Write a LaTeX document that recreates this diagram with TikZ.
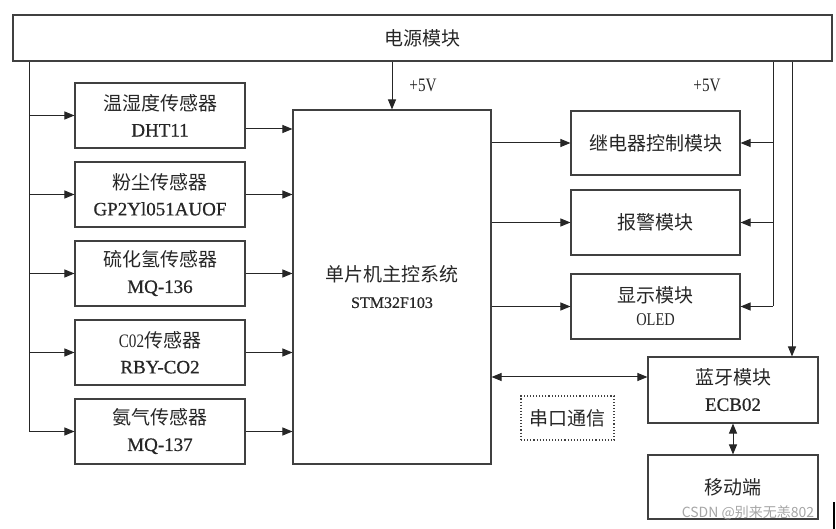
\documentclass[tikz,border=0pt]{standalone}
\usepackage{fontspec}
\setmainfont[FakeBold=0.6]{Liberation Serif}
\newfontfamily\cjk{Noto Sans CJK SC}
\newfontfamily\narrowf[FakeStretch=0.8]{Liberation Serif}
\usetikzlibrary{arrows.meta}
\begin{document}
\begin{tikzpicture}[x=1pt,y=-1pt,
  box/.style={draw=black!75,line width=1.1pt,inner sep=0pt,align=center,text=black!85,
    font=\fontsize{19}{26}\selectfont},
  wire/.style={line width=1pt,black!85},
  arr/.style={wire,-{Triangle[length=10pt,width=8pt]}},
  arrtwo/.style={wire,{Triangle[length=10pt,width=8pt]}-{Triangle[length=10pt,width=8pt]}},
  lbl/.style={inner sep=0pt,text=black!85,font=\fontsize{19}{24}\selectfont\narrowf}]
\useasboundingbox (0,0) rectangle (836,529);
% power
\node[box,minimum width=819pt,minimum height=46pt] (power) at (422.5,38) {\cjk 电源模块};
% sensors
\node[box,minimum width=170pt,minimum height=65pt] (s1) at (160,115.5) {{\cjk 温湿度传感器}\\DHT11};
\node[box,minimum width=170pt,minimum height=65pt] (s2) at (160,194.5) {{\cjk 粉尘传感器}\\GP2Yl051AUOF};
\node[box,minimum width=170pt,minimum height=65pt] (s3) at (160,273.5) {{\cjk 硫化氢传感器}\\MQ-136};
\node[box,minimum width=170pt,minimum height=65pt] (s4) at (160,352.5) {{\narrowf C02}{\cjk 传感器}\\RBY-CO2};
\node[box,minimum width=170pt,minimum height=65pt] (s5) at (160,431.5) {{\cjk 氨气传感器}\\MQ-137};
% main
\node[box,minimum width=198pt,minimum height=354pt] (main) at (392,287)
  {{\cjk 单片机主控系统}\\{\fontsize{16}{20}\selectfont STM32F103}};
% outputs
\node[box,minimum width=169pt,minimum height=64pt] (relay) at (655.5,143) {\cjk 继电器控制模块};
\node[box,minimum width=169pt,minimum height=65pt] (alarm) at (655.5,222.5) {\cjk 报警模块};
\node[box,minimum width=169pt,minimum height=65pt,font=\fontsize{19}{23}\selectfont] (disp) at (655.5,306.5)
  {{\cjk 显示模块}\\{\narrowf\fontsize{18}{20}\selectfont OLED}};
\node[box,minimum width=170pt,minimum height=66pt] (bt) at (733,390) {{\cjk 蓝牙模块}\\ECB02};
\node[box,minimum width=170pt,minimum height=64pt] (mob) at (733,487) {\cjk 移动端};
\node[box,dotted,minimum width=93pt,minimum height=44pt] (ser) at (567.5,418) {\cjk 串口通信};
% labels
\node[lbl] (v1) at (423,85) {+5V};
\node[lbl] (v2) at (707,85) {+5V};
% left bus
\coordinate (lb) at (29,431.5);
\draw[wire] (lb |- power.south) -- (lb);
\foreach \s in {s1,s2,s3,s4,s5} \draw[arr] (lb |- \s.west) -- (\s.west);
% sensors to main
\draw[arr] ([yshift=-13.5pt]s1.east) -- ([yshift=-13.5pt]s1.east -| main.west);
\foreach \s in {s2,s3,s4,s5} \draw[arr] (\s.east) -- (\s.east -| main.west);
% power to main
\draw[arr] (power.south -| main.north) -- (main.north);
% main to outputs
\foreach \o in {relay,alarm,disp} \draw[arr] (\o.west -| main.east) -- (\o.west);
% right bus 1
\coordinate (rb) at (773,306.5);
\draw[wire] (rb |- power.south) -- (rb);
\foreach \o in {relay,alarm,disp} \draw[arr] (rb |- \o.east) -- (\o.east);
% right bus 2
\coordinate (rb2) at (792,357);
\draw[arr] (rb2 |- power.south) -- (rb2 |- bt.north);
% serial
\coordinate (sp) at (648,377);
\draw[arrtwo] (sp -| main.east) -- (sp -| bt.west);
% bt to mobile
\draw[arrtwo] (bt.south) -- (mob.north);
% watermark and edge
\node[inner sep=0pt,text=black!35,font=\fontsize{14}{16}\selectfont\cjk] (wm) at (748,513) {CSDN @别来无恙802};
\coordinate (e1) at (834,502);
\coordinate (e2) at (834,529);
\draw[line width=1.5pt] (e1) -- (e2);
\end{tikzpicture}
\end{document}
